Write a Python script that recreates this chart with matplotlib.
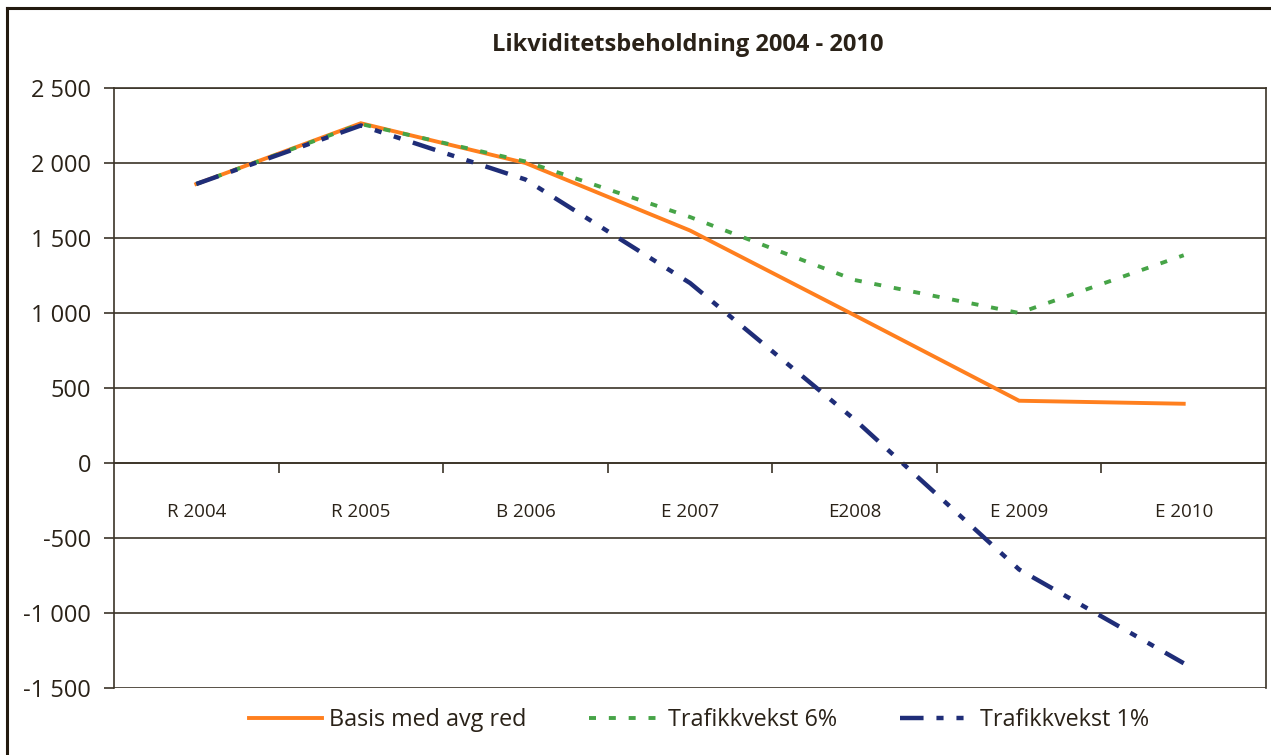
import numpy as np
import matplotlib
matplotlib.use("Agg")
import matplotlib.pyplot as plt
from matplotlib.ticker import FuncFormatter, FixedLocator
from matplotlib.lines import Line2D

plt.rcParams['font.family'] = ['Open Sans', 'DejaVu Sans']

# Data
kategorier = ['R 2004', 'R 2005', 'B 2006', 'E 2007', 'E2008', 'E 2009', 'E 2010']
basis = [1860, 2265, 2000, 1550, 985, 415, 395]
vekst6 = [1860, 2260, 2010, 1640, 1220, 1000, 1385]
vekst1 = [1860, 2250, 1890, 1200, 290, -710, -1335]
navn = ['Basis med avg red', 'Trafikkvekst 6%', 'Trafikkvekst 1%']

tekst = '#2a2218'
linje = '#3b3428'

fig = plt.figure(figsize=(12.71, 7.55), dpi=100)
ax = fig.add_axes([114/1271, 1-688/755, (1266-114)/1271, 600/755])

x = np.arange(len(kategorier))
ax.plot(x, basis, color='#ff7f1e', lw=2.8, solid_joinstyle='miter', label=navn[0])
ax.plot(x, vekst6, color='#46a447', lw=2.8, linestyle=(0, (1.8, 3.3)), label=navn[1])
ax.plot(x, vekst1, color='#1f2d78', lw=3.2, linestyle=(0, (5.3, 2.9, 1.6, 2.9, 1.6, 2.9)), label=navn[2])

ax.set_xlim(-0.5, len(kategorier) - 0.5)
ax.set_ylim(-1500, 2500)
ax.set_yticks(np.arange(-1500, 2501, 500))
ax.yaxis.set_major_formatter(FuncFormatter(lambda v, p: f"{v:,.0f}".replace(",", " ")))
ax.grid(axis='y', color=linje, lw=1.2)
ax.set_axisbelow(True)

# x axis sits on the zero line, ticks between categories
ax.spines['bottom'].set_position(('data', 0))
ax.spines['bottom'].set_color(linje)
ax.spines['bottom'].set_linewidth(1.2)
for s in ['left', 'right', 'top']:
    ax.spines[s].set_color(linje)
    ax.spines[s].set_linewidth(1.2)
ax.set_xticks(x)
ax.set_xticklabels(kategorier)
ax.xaxis.set_minor_locator(FixedLocator(x[:-1] + 0.5))
ax.tick_params(axis='x', which='major', length=0, pad=29, labelsize=13.5, labelcolor=tekst)
ax.tick_params(axis='x', which='minor', length=7, width=1.2, color=linje, direction='out')
ax.tick_params(axis='y', length=7, width=1.2, color=linje, pad=9.5, labelsize=17, labelcolor=tekst)

fig.text(688/1271, 1-45/755, 'Likviditetsbeholdning 2004 - 2010', ha='center', va='center',
         fontsize=17, fontweight='bold', color=tekst)

fig.legend(loc='center', bbox_to_anchor=(699/1271, 1-720/755), ncol=3, frameon=False,
           fontsize=16.8, handlelength=3.1, handletextpad=0.3, columnspacing=2.7, labelcolor=tekst)

# outer frame (left and top edges visible)
fig.add_artist(Line2D([7/1271, 7/1271], [0, 1-8/755], color='#231a0f', lw=2.2))
fig.add_artist(Line2D([7/1271, 1], [1-8/755, 1-8/755], color='#231a0f', lw=2.2))

fig.savefig('out.png', dpi=100)
